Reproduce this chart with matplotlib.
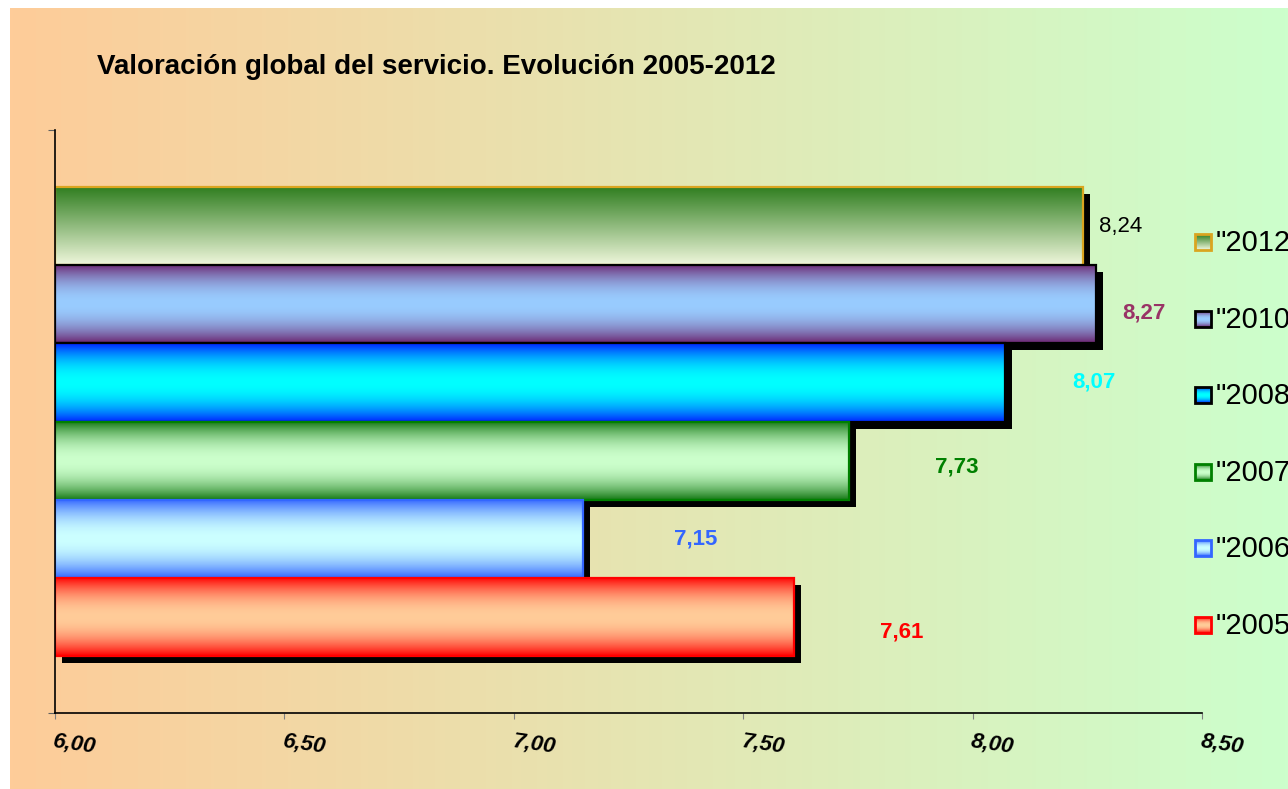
import numpy as np
import matplotlib
matplotlib.use('Agg')
import matplotlib.pyplot as plt
from matplotlib.patches import Rectangle
import matplotlib.transforms as mtransforms
from matplotlib.colors import to_rgb

plt.rcParams['font.family'] = ['Liberation Sans', 'DejaVu Sans']

# ---------------- data ----------------
years = ['"2005', '"2006', '"2007', '"2008', '"2010', '"2012']
values = [7.61, 7.15, 7.73, 8.07, 8.27, 8.24]
value_labels = ['7,61', '7,15', '7,73', '8,07', '8,27', '8,24']
xticks = [6.0, 6.5, 7.0, 7.5, 8.0, 8.5]
xtick_labels = ['6,00', '6,50', '7,00', '7,50', '8,00', '8,50']
title = 'Valoración global del servicio. Evolución 2005-2012'

# ---------------- styles ----------------
edge_cols = ['#FF0000', '#3366FF', '#008000', '#000000', '#000000', '#DAA520']
grad_outer = ['#FF0000', '#3366FF', '#137813', '#0022FF', '#6B2570', '#2E7D1E']
grad_inner = ['#FFCC99', '#CCFFFF', '#CCFFCC', '#00FFFF', '#99CCFF', '#F0F7DC']
grad_kind = ['center', 'center', 'center', 'center', 'center', 'linear']
label_colors = ['#FF0000', '#3366FF', '#008000', '#00FFFF', '#993366', '#000000']
label_weights = ['bold', 'bold', 'bold', 'bold', 'bold', 'normal']
label_off_px = [(86, 15), (91, 0), (86, 6), (68, 0), (26, 9), (16, 0)]

W, H, DPI = 1288, 789, 100
fig = plt.figure(figsize=(W / DPI, H / DPI), dpi=DPI)
fig.patch.set_facecolor('white')


def gradient(outer, inner, kind, n=200):
    t = np.linspace(0, 1, n)
    o = np.array(to_rgb(outer))
    c = np.array(to_rgb(inner))
    if kind == 'linear':
        w = 1 - t
    else:
        w = np.abs(2 * t - 1) ** 2
    g = c[None, :] * (1 - w[:, None]) + o[None, :] * w[:, None]
    return g[:, None, :]


# background gradient panel
bg = fig.add_axes([10 / W, 0, 1 - 10 / W, (H - 8) / H], zorder=-10)
left_c = np.array([254, 204, 153]) / 255
right_c = np.array([204, 255, 204]) / 255
tt = np.linspace(0, 1, 400)
bgimg = left_c[None, :] * (1 - tt[:, None]) + right_c[None, :] * tt[:, None]
bg.imshow(bgimg[None, :, :], aspect='auto', extent=(0, 1, 0, 1))
bg.set_axis_off()

# main axes
ax_l, ax_r, ax_t, ax_b = 55, 1202, 130, 713
ax = fig.add_axes([ax_l / W, (H - ax_b) / H, (ax_r - ax_l) / W, (ax_b - ax_t) / H])
ax.patch.set_alpha(0)

n = len(values)
ylo, yhi = -1.23, n - 1 + 1.23
shadow_tr = mtransforms.offset_copy(ax.transData, fig=fig, x=7, y=-7, units='dots')

for i, v in enumerate(values):
    base = 2 + (n - 1 - i) * 3
    sh = Rectangle((xticks[0], i - 0.5), v - xticks[0], 1.0, transform=shadow_tr,
                   facecolor='black', edgecolor='none', zorder=base)
    ax.add_patch(sh)
    ax.imshow(gradient(grad_outer[i], grad_inner[i], grad_kind[i]),
              extent=(xticks[0], v, i - 0.5, i + 0.5), aspect='auto',
              interpolation='bilinear', zorder=base + 1)
    ax.add_patch(Rectangle((xticks[0], i - 0.5), v - xticks[0], 1.0, fill=False,
                           edgecolor=edge_cols[i], lw=1.6, zorder=base + 2))
    dx, dy = label_off_px[i]
    ax.annotate(value_labels[i], xy=(v, i), xytext=(dx * 72 / DPI, -dy * 72 / DPI),
                textcoords='offset points', ha='left', va='center', fontsize=16,
                color=label_colors[i], fontweight=label_weights[i], zorder=30,
                annotation_clip=False)

ax.set_xlim(xticks[0], xticks[-1])
ax.set_ylim(ylo, yhi)
ax.set_xticks(xticks)
ax.set_xticklabels(xtick_labels, rotation=-8, ha='left', rotation_mode='anchor',
                   fontsize=16, fontweight='bold', fontstyle='italic')
ax.set_yticks([ylo, yhi])
ax.set_yticklabels([])
ax.tick_params(axis='x', direction='out', length=4.5, color='#808080', pad=8)
ax.tick_params(axis='y', direction='out', length=5, color='#606060')
for s in ['top', 'right']:
    ax.spines[s].set_visible(False)
for s in ['left', 'bottom']:
    ax.spines[s].set_color('black')
    ax.spines[s].set_linewidth(1.2)
    ax.spines[s].set_zorder(40)

# title
fig.text(97 / W, 1 - 67 / H, title, fontsize=20, fontweight='bold', ha='left', va='center')

# legend overlay
lg = fig.add_axes([0, 0, 1, 1], zorder=20)
lg.set_xlim(0, W)
lg.set_ylim(H, 0)
lg.set_axis_off()
lg.patch.set_alpha(0)
for k, i in enumerate(range(n - 1, -1, -1)):
    yc = 242 + k * 76.6
    x0, x1 = 1195, 1211
    lg.imshow(gradient(grad_outer[i], grad_inner[i], grad_kind[i], 40),
              extent=(x0, x1, yc + 8, yc - 8), aspect='auto', interpolation='bilinear')
    lg.add_patch(Rectangle((x0, yc - 8), x1 - x0, 16, fill=False,
                           edgecolor=edge_cols[i], lw=2))
    lg.text(1216, yc + 1, years[i], fontsize=21, ha='left', va='center')
lg.set_xlim(0, W)
lg.set_ylim(H, 0)

fig.savefig('out.png', dpi=DPI)
